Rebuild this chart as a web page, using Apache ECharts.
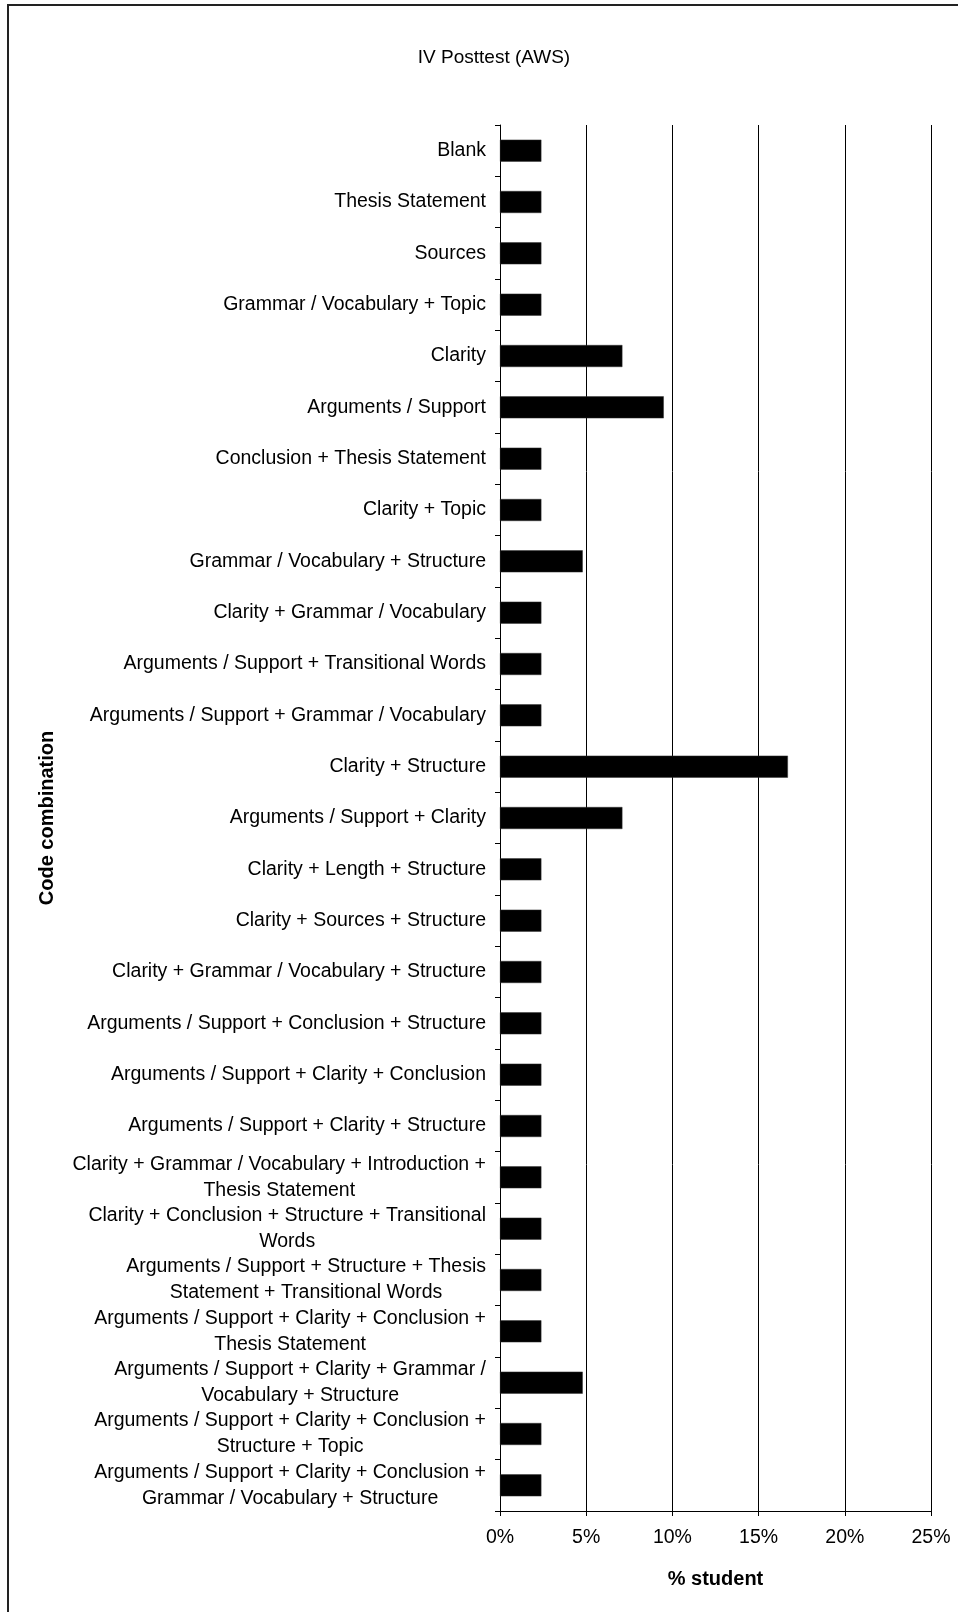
<!DOCTYPE html>
<html>
    <head>
        <meta charset="UTF-8">
        <title>IV Posttest (AWS)</title>
        <script src="https://cdn.jsdelivr.net/npm/echarts@6/dist/echarts.min.js"></script>
        <style>
            body,html{margin:0;padding:0;background:#fff;}
            #frame{position:absolute;left:7px;top:4px;right:-5px;bottom:-5px;border-left:2px solid #222;border-top:2px solid #222;}
            #main{position:absolute;left:0;top:0;width:958px;height:1612px;}
        </style>
    </head>
    <body>
        <div id="frame"></div>
        <div id="main"></div>
        <script type="text/javascript">
          // 类别（从上到下）
          var categories = [
              'Blank',
              'Thesis Statement',
              'Sources',
              'Grammar / Vocabulary + Topic',
              'Clarity',
              'Arguments / Support',
              'Conclusion + Thesis Statement',
              'Clarity + Topic',
              'Grammar / Vocabulary + Structure',
              'Clarity + Grammar / Vocabulary',
              'Arguments / Support + Transitional Words',
              'Arguments / Support + Grammar / Vocabulary',
              'Clarity + Structure',
              'Arguments / Support + Clarity',
              'Clarity + Length + Structure',
              'Clarity + Sources + Structure',
              'Clarity + Grammar / Vocabulary + Structure',
              'Arguments / Support + Conclusion + Structure',
              'Arguments / Support + Clarity + Conclusion',
              'Arguments / Support + Clarity + Structure',
              'Clarity + Grammar / Vocabulary + Introduction +\nThesis Statement',
              'Clarity + Conclusion + Structure + Transitional\nWords',
              'Arguments / Support + Structure + Thesis\nStatement + Transitional Words',
              'Arguments / Support + Clarity + Conclusion +\nThesis Statement',
              'Arguments / Support + Clarity + Grammar /\nVocabulary + Structure',
              'Arguments / Support + Clarity + Conclusion +\nStructure + Topic',
              'Arguments / Support + Clarity + Conclusion +\nGrammar / Vocabulary + Structure'
          ];
          // % student
          var studentPct = [2.4, 2.4, 2.4, 2.4, 7.1, 9.5, 2.4, 2.4, 4.8, 2.4, 2.4, 2.4, 16.7, 7.1,
                            2.4, 2.4, 2.4, 2.4, 2.4, 2.4, 2.4, 2.4, 2.4, 2.4, 4.8, 2.4, 2.4];
          var xTicks = [0, 5, 10, 15, 20, 25];

          var font = '"Liberation Sans", Arial, sans-serif';
          var chart = echarts.init(document.getElementById('main'));
          var option = {
              animation: false,
              title: {
                  text: 'IV Posttest (AWS)',
                  left: 489,
                  top: 43,
                  textAlign: 'center',
                  textStyle: {fontSize: 19, fontWeight: 'normal', color: '#000', fontFamily: font}
              },
              grid: {left: 500, right: 27, top: 125, bottom: 101, containLabel: false},
              xAxis: {
                  type: 'value',
                  min: xTicks[0],
                  max: xTicks[xTicks.length - 1],
                  interval: 5,
                  name: '% student',
                  nameLocation: 'middle',
                  nameGap: 58,
                  nameTextStyle: {fontSize: 20, fontWeight: 'bold', color: '#000', fontFamily: font, verticalAlign: 'top'},
                  axisLine: {show: true, lineStyle: {color: '#000', width: 1}},
                  axisTick: {show: true, length: 5, lineStyle: {color: '#000'}},
                  axisLabel: {margin: 17, fontSize: 19.5, color: '#000', fontFamily: font,
                      formatter: function (v) { return v + '%'; }},
                  splitLine: {show: true, lineStyle: {color: '#000', width: 1}}
              },
              yAxis: {
                  type: 'category',
                  inverse: true,
                  data: categories,
                  name: 'Code combination',
                  nameLocation: 'middle',
                  nameGap: 443,
                  nameTextStyle: {fontSize: 20, fontWeight: 'bold', color: '#000', fontFamily: font},
                  axisLine: {show: true, lineStyle: {color: '#000', width: 1}},
                  axisTick: {show: true, length: 5, lineStyle: {color: '#000'}},
                  axisLabel: {
                      interval: 0,
                      margin: 14,
                      fontSize: 19.5,
                      lineHeight: 26,
                      color: '#000',
                      fontFamily: font,
                      formatter: function (v) {
                          return v.split('\n').map(function (l) { return '{c|' + l + '}'; }).join('\n');
                      },
                      rich: {
                          c: {align: 'center', fontSize: 19.5, lineHeight: 26, color: '#000', fontFamily: font}
                      }
                  },
                  splitLine: {show: false}
              },
              series: [
                  {
                      name: '% student',
                      type: 'bar',
                      barWidth: 22,
                      data: studentPct,
                      itemStyle: {color: '#000', borderColor: '#333', borderWidth: 0.5}
                  }
              ]
          };
          chart.setOption(option);
        </script>
    </body>
</html>
